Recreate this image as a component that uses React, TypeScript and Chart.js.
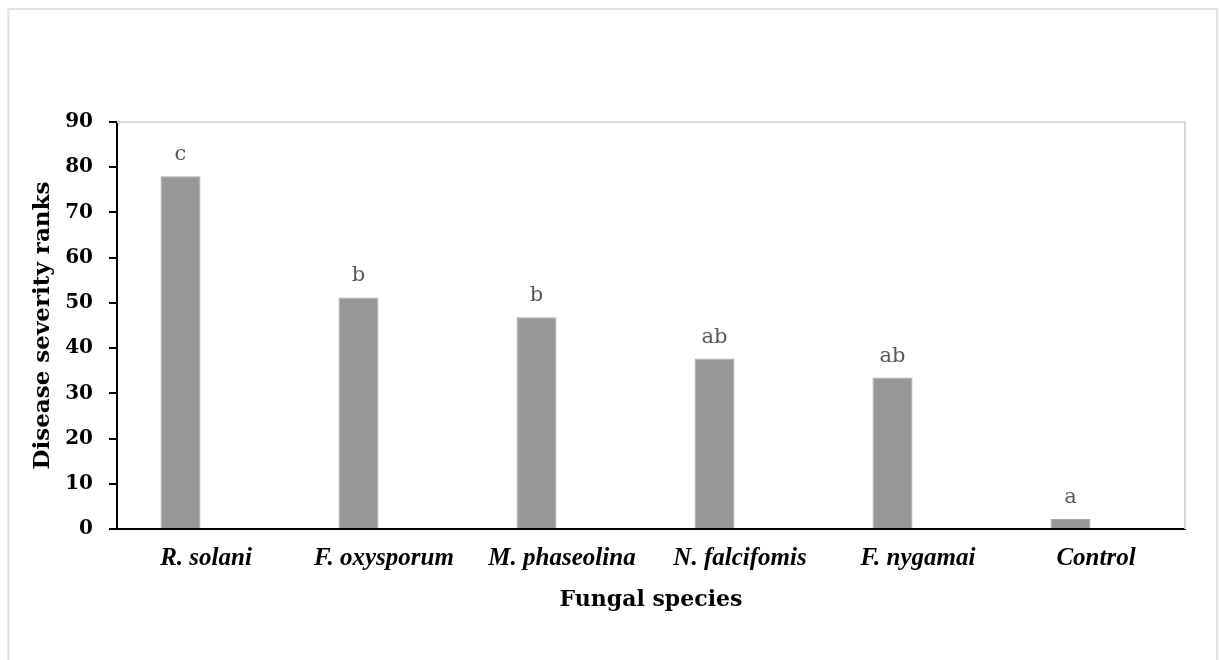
import React, { useEffect, useRef } from "react";
import { Chart, registerables } from "chart.js";

Chart.register(...registerables);

const categories = ["R. solani", "F. oxysporum", "M. phaseolina", "N. falcifomis", "F. nygamai", "Control"];
const severityRanks = [78, 51.2, 46.8, 37.7, 33.5, 2.2];
const emptySeries = [null, null, null, null, null, null];
const significanceLetters = ["c", "b", "b", "ab", "ab", "a"];
const yTicks = [0, 10, 20, 30, 40, 50, 60, 70, 80, 90];

const framePlugin = {
  id: "frame",
  beforeDraw(chart: any) {
    const { ctx } = chart;
    ctx.save();
    ctx.strokeStyle = "#e1e1e1";
    ctx.lineWidth = 2;
    ctx.strokeRect(8.5, 9, 1208.5, 700);
    ctx.restore();
  },
  beforeDatasetsDraw(chart: any) {
    const { ctx, chartArea } = chart;
    ctx.save();
    ctx.strokeStyle = "#d9d9d9";
    ctx.lineWidth = 2;
    ctx.beginPath();
    ctx.moveTo(chartArea.left, chartArea.top);
    ctx.lineTo(chartArea.right, chartArea.top);
    ctx.lineTo(chartArea.right, chartArea.bottom);
    ctx.stroke();
    ctx.restore();
  },
};

const lettersPlugin = {
  id: "letters",
  afterDatasetsDraw(chart: any) {
    const { ctx } = chart;
    const meta = chart.getDatasetMeta(0);
    ctx.save();
    ctx.fillStyle = "#595959";
    ctx.font = "21px 'DejaVu Serif'";
    ctx.textAlign = "center";
    ctx.textBaseline = "alphabetic";
    meta.data.forEach((bar: any, i: number) => {
      ctx.fillText(significanceLetters[i], bar.x, bar.y - 16);
    });
    ctx.restore();
  },
};

export default function App() {
  const canvasRef = useRef<HTMLCanvasElement>(null);

  useEffect(() => {
    if (!canvasRef.current) return;
    const chart = new Chart(canvasRef.current, {
      type: "bar",
      data: {
        labels: categories,
        datasets: [
          {
            data: severityRanks,
            backgroundColor: "#979797",
            borderColor: "#a8a8a8",
            borderWidth: 1,
            categoryPercentage: 0.573,
            barPercentage: 0.784,
          },
          {
            data: emptySeries as any,
            backgroundColor: "rgba(0,0,0,0)",
            categoryPercentage: 0.573,
            barPercentage: 0.784,
          },
        ],
      },
      options: {
        responsive: false,
        animation: false,
        devicePixelRatio: 1,
        layout: { padding: { left: 8, top: 122, right: 34, bottom: 0 } },
        plugins: {
          legend: { display: false },
          tooltip: { enabled: false },
        },
        scales: {
          x: {
            grid: { display: false, drawTicks: false },
            border: { display: true, color: "#000", width: 2 },
            ticks: {
              autoSkip: false,
              maxRotation: 0,
              padding: 15,
              color: "#000",
              font: { family: "'Liberation Serif'", size: 25, weight: "bold", style: "italic" },
            },
            title: {
              display: true,
              text: "Fungal species",
              color: "#000",
              font: { family: "'DejaVu Serif'", size: 22, weight: "bold" },
              padding: { top: 0, bottom: 47 },
            },
            afterFit(scale: any) {
              scale.height = 131;
            },
          },
          y: {
            min: 0,
            max: 90,
            afterBuildTicks(scale: any) {
              scale.ticks = yTicks.map((v) => ({ value: v }));
            },
            grid: {
              drawOnChartArea: false,
              drawTicks: true,
              tickLength: 8,
              color: "#000",
              lineWidth: 2,
            },
            border: { display: true, color: "#000", width: 2 },
            ticks: {
              padding: 16,
              color: "#000",
              font: { family: "'DejaVu Serif'", size: 20, weight: "bold" },
            },
            title: {
              display: true,
              text: "Disease severity ranks",
              color: "#000",
              font: { family: "'DejaVu Serif'", size: 23, weight: "bold" },
              padding: { top: 21, bottom: 0 },
            },
            afterFit(scale: any) {
              scale.width = 109;
            },
          },
        },
      },
      plugins: [framePlugin, lettersPlugin],
    });
    return () => chart.destroy();
  }, []);

  return (
    <div style={{ position: "fixed", left: 0, top: 0, width: 1219, height: 660, background: "#fff" }}>
      <canvas ref={canvasRef} width={1219} height={660} style={{ display: "block" }} />
    </div>
  );
}
